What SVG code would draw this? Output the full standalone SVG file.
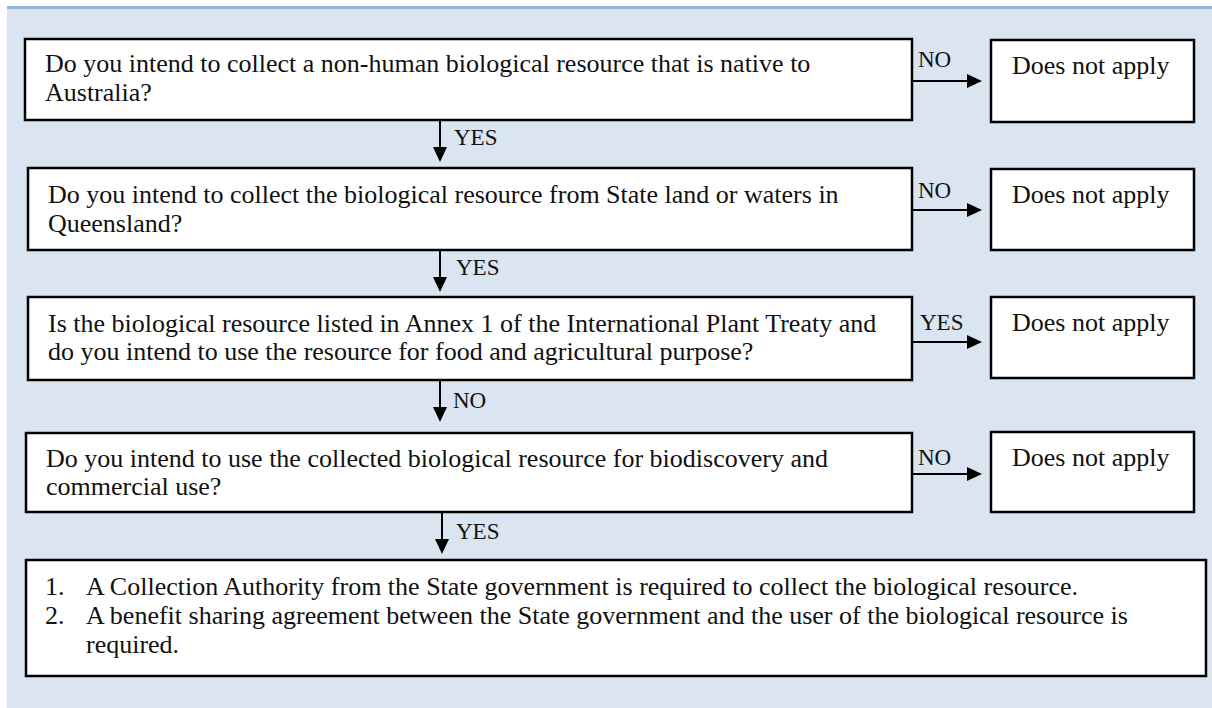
<svg xmlns="http://www.w3.org/2000/svg" width="1212" height="708" viewBox="0 0 1212 708">
<style>
.bx{fill:#fff;stroke:#000;stroke-width:2.5}
.t{font-family:"Liberation Serif","Times New Roman",serif;font-size:26px;fill:#111}
.l{font-family:"Liberation Serif","Times New Roman",serif;font-size:23px;fill:#111}
.c{stroke:#000;stroke-width:2;fill:none;marker-end:url(#ah)}
</style>
<defs>
<marker id="ah" markerUnits="userSpaceOnUse" markerWidth="16" markerHeight="15" refX="5" refY="7" orient="auto">
<path d="M0,0 L15,7 L0,14 z" fill="#000"/>
</marker>
</defs>
<rect x="0" y="0" width="1212" height="708" fill="#fff"/>
<rect x="7" y="9" width="1205" height="699" fill="#dbe5f1"/>
<line x1="7" y1="7.5" x2="1212" y2="7.5" stroke="#95b3d7" stroke-width="3"/>

<g id="q1"><rect class="bx" x="25" y="39" width="887" height="81"/>
<text class="t" x="45" y="72">Do you intend to collect a non-human biological resource that is native to</text>
<text class="t" x="45" y="101">Australia?</text></g>
<g id="d1"><rect class="bx" x="991" y="40" width="203" height="82"/>
<text class="t" x="1012" y="74">Does not apply</text></g>

<g id="q2"><rect class="bx" x="28" y="168" width="884" height="82"/>
<text class="t" x="48" y="203">Do you intend to collect the biological resource from State land or waters in</text>
<text class="t" x="48" y="232">Queensland?</text></g>
<g id="d2"><rect class="bx" x="991" y="169" width="203" height="81"/>
<text class="t" x="1012" y="203">Does not apply</text></g>

<g id="q3"><rect class="bx" x="28" y="297" width="884" height="83"/>
<text class="t" x="48" y="332">Is the biological resource listed in Annex 1 of the International Plant Treaty and</text>
<text class="t" x="48" y="360">do you intend to use the resource for food and agricultural purpose?</text></g>
<g id="d3"><rect class="bx" x="991" y="297" width="203" height="81"/>
<text class="t" x="1012" y="331">Does not apply</text></g>

<g id="q4"><rect class="bx" x="26" y="433" width="886" height="79"/>
<text class="t" x="46" y="467">Do you intend to use the collected biological resource for biodiscovery and</text>
<text class="t" x="46" y="495">commercial use?</text></g>
<g id="d4"><rect class="bx" x="991" y="432" width="203" height="80"/>
<text class="t" x="1012" y="466">Does not apply</text></g>

<g id="result"><rect class="bx" x="26" y="560" width="1180" height="116"/>
<text class="t" x="45" y="595">1.</text>
<text class="t" x="86" y="595">A Collection Authority from the State government is required to collect the biological resource.</text>
<text class="t" x="45" y="624">2.</text>
<text class="t" x="86" y="624">A benefit sharing agreement between the State government and the user of the biological resource is</text>
<text class="t" x="86" y="653">required.</text></g>

<g id="connectors">
<line class="c" x1="440" y1="121" x2="440" y2="152"/>
<line class="c" x1="440" y1="251" x2="440" y2="282"/>
<line class="c" x1="440" y1="381" x2="440" y2="412"/>
<line class="c" x1="442" y1="513" x2="442" y2="544"/>
<line class="c" x1="913" y1="81" x2="972" y2="81"/>
<line class="c" x1="913" y1="210" x2="972" y2="210"/>
<line class="c" x1="913" y1="342" x2="972" y2="342"/>
<line class="c" x1="913" y1="474" x2="972" y2="474"/>
<text class="l" x="454" y="145">YES</text>
<text class="l" x="456" y="275">YES</text>
<text class="l" x="453" y="408">NO</text>
<text class="l" x="456" y="539">YES</text>
<text class="l" x="918" y="67">NO</text>
<text class="l" x="918" y="198">NO</text>
<text class="l" x="920" y="330">YES</text>
<text class="l" x="918" y="465">NO</text>
</g>
</svg>
